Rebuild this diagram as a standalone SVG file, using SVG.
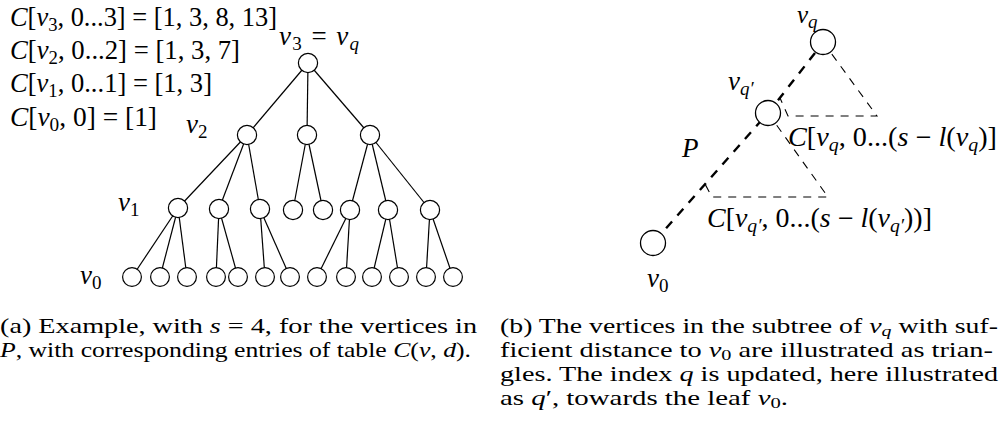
<svg xmlns="http://www.w3.org/2000/svg" width="1007" height="431" viewBox="0 0 1007 431" font-family="'Liberation Serif', serif">
<style>
text{font-family:'Liberation Serif',serif;fill:#000}
.m{font-size:27px}
.i{font-style:italic}
.sub{font-size:19px;baseline-shift:-5px}
.cap{font-size:21px}
.cs{font-size:15px;baseline-shift:-3px}
.edge{stroke:#000;stroke-width:1.2;fill:none}
.na{fill:#fff;stroke:#000;stroke-width:1.2}
.nb{fill:#fff;stroke:#000;stroke-width:1.3}
.path{stroke:#000;stroke-width:2.4;fill:none;stroke-dasharray:9 8}
.tri{stroke:#000;stroke-width:1.1;fill:none;stroke-dasharray:8 7}
</style>
<g id="table">
<text class="m" x="10" y="26" textLength="267" lengthAdjust="spacingAndGlyphs"><tspan class="i">C</tspan>[<tspan class="i">v</tspan><tspan class="sub">3</tspan>, 0...3] = [1, 3, 8, 13]</text>
<text class="m" x="10" y="59" textLength="230" lengthAdjust="spacingAndGlyphs"><tspan class="i">C</tspan>[<tspan class="i">v</tspan><tspan class="sub">2</tspan>, 0...2] = [1, 3, 7]</text>
<text class="m" x="10" y="92" textLength="202" lengthAdjust="spacingAndGlyphs"><tspan class="i">C</tspan>[<tspan class="i">v</tspan><tspan class="sub">1</tspan>, 0...1] = [1, 3]</text>
<text class="m" x="10" y="126" textLength="147" lengthAdjust="spacingAndGlyphs"><tspan class="i">C</tspan>[<tspan class="i">v</tspan><tspan class="sub">0</tspan>, 0] = [1]</text>
</g>
<g id="connectors">
<g id="edges-a">
<line class="edge" x1="308" y1="63" x2="247" y2="135"/>
<line class="edge" x1="308" y1="63" x2="307" y2="135"/>
<line class="edge" x1="308" y1="63" x2="370" y2="135"/>
<line class="edge" x1="247" y1="135" x2="178" y2="208"/>
<line class="edge" x1="247" y1="135" x2="219" y2="209"/>
<line class="edge" x1="247" y1="135" x2="260" y2="209"/>
<line class="edge" x1="307" y1="135" x2="293" y2="210"/>
<line class="edge" x1="307" y1="135" x2="323" y2="210"/>
<line class="edge" x1="370" y1="135" x2="350" y2="210"/>
<line class="edge" x1="370" y1="135" x2="388" y2="210"/>
<line class="edge" x1="370" y1="135" x2="430" y2="210"/>
<line class="edge" x1="178" y1="208" x2="132" y2="277"/>
<line class="edge" x1="178" y1="208" x2="160" y2="277"/>
<line class="edge" x1="178" y1="208" x2="187" y2="277"/>
<line class="edge" x1="219" y1="209" x2="216" y2="277"/>
<line class="edge" x1="219" y1="209" x2="238" y2="277"/>
<line class="edge" x1="260" y1="209" x2="265" y2="277"/>
<line class="edge" x1="260" y1="209" x2="290" y2="277"/>
<line class="edge" x1="350" y1="210" x2="317" y2="277"/>
<line class="edge" x1="350" y1="210" x2="346" y2="277"/>
<line class="edge" x1="388" y1="210" x2="372" y2="277"/>
<line class="edge" x1="388" y1="210" x2="399" y2="277"/>
<line class="edge" x1="430" y1="210" x2="426" y2="277"/>
<line class="edge" x1="430" y1="210" x2="453" y2="277"/>
</g>
<g id="edges-b">
<polyline class="tri" points="823,42 877,116 788,116 780,98"/>
<polyline class="tri" points="768,113 828,197 712,197 705,184"/>
<polyline class="path" points="815,53 768,113 653,243"/>
</g>
</g>
<g id="tree-a">
<g id="a-root"><circle class="na" cx="308" cy="63" r="9.6"/></g>
<g id="a-l2-1"><circle class="na" cx="247" cy="135" r="9.6"/></g>
<g id="a-l2-2"><circle class="na" cx="307" cy="135" r="9.6"/></g>
<g id="a-l2-3"><circle class="na" cx="370" cy="135" r="9.6"/></g>
<g id="a-l1-1"><circle class="na" cx="178" cy="208" r="9.6"/></g>
<g id="a-l1-2"><circle class="na" cx="219" cy="209" r="9.6"/></g>
<g id="a-l1-3"><circle class="na" cx="260" cy="209" r="9.6"/></g>
<g id="a-l1-4"><circle class="na" cx="293" cy="210" r="9.6"/></g>
<g id="a-l1-5"><circle class="na" cx="323" cy="210" r="9.6"/></g>
<g id="a-l1-6"><circle class="na" cx="350" cy="210" r="9.6"/></g>
<g id="a-l1-7"><circle class="na" cx="388" cy="210" r="9.6"/></g>
<g id="a-l1-8"><circle class="na" cx="430" cy="210" r="9.6"/></g>
<g id="a-l0-1"><circle class="na" cx="132" cy="277" r="9.4"/></g>
<g id="a-l0-2"><circle class="na" cx="160" cy="277" r="9.4"/></g>
<g id="a-l0-3"><circle class="na" cx="187" cy="277" r="9.4"/></g>
<g id="a-l0-4"><circle class="na" cx="216" cy="277" r="9.4"/></g>
<g id="a-l0-5"><circle class="na" cx="238" cy="277" r="9.4"/></g>
<g id="a-l0-6"><circle class="na" cx="265" cy="277" r="9.4"/></g>
<g id="a-l0-7"><circle class="na" cx="290" cy="277" r="9.4"/></g>
<g id="a-l0-8"><circle class="na" cx="317" cy="277" r="9.4"/></g>
<g id="a-l0-9"><circle class="na" cx="346" cy="277" r="9.4"/></g>
<g id="a-l0-10"><circle class="na" cx="372" cy="277" r="9.4"/></g>
<g id="a-l0-11"><circle class="na" cx="399" cy="277" r="9.4"/></g>
<g id="a-l0-12"><circle class="na" cx="426" cy="277" r="9.4"/></g>
<g id="a-l0-13"><circle class="na" cx="453" cy="277" r="9.4"/></g>
</g>
<g id="labels-a">
<text class="m" x="279" y="45" textLength="80" lengthAdjust="spacing"><tspan class="i">v</tspan><tspan class="sub">3</tspan> = <tspan class="i">v</tspan><tspan class="sub i">q</tspan></text>
<text class="m" x="186" y="133"><tspan class="i">v</tspan><tspan class="sub">2</tspan></text>
<text class="m" x="118" y="211"><tspan class="i">v</tspan><tspan class="sub">1</tspan></text>
<text class="m" x="80" y="284"><tspan class="i">v</tspan><tspan class="sub">0</tspan></text>
</g>
<g id="tree-b">
<g id="b-vq"><circle class="nb" cx="823" cy="42" r="12.5"/><text class="m" style="font-size:25px" x="797" y="23"><tspan class="i">v</tspan><tspan class="sub i">q</tspan></text></g>
<g id="b-vq2"><circle class="nb" cx="768" cy="113" r="12.5"/><text class="m" x="728" y="90"><tspan class="i">v</tspan><tspan class="sub i">q′</tspan></text></g>
<g id="b-v0"><circle class="nb" cx="653" cy="243" r="12.5"/><text class="m" x="647" y="287"><tspan class="i">v</tspan><tspan class="sub">0</tspan></text></g>
<text class="m i" x="682" y="157">P</text>
<text class="m" x="788" y="146" textLength="209" lengthAdjust="spacingAndGlyphs"><tspan class="i">C</tspan>[<tspan class="i">v</tspan><tspan class="sub i">q</tspan>, 0...(<tspan class="i">s</tspan> − <tspan class="i">l</tspan>(<tspan class="i">v</tspan><tspan class="sub i">q</tspan>)]</text>
<text class="m" x="707" y="227" textLength="225" lengthAdjust="spacingAndGlyphs"><tspan class="i">C</tspan>[<tspan class="i">v</tspan><tspan class="sub i">q′</tspan>, 0...(<tspan class="i">s</tspan> − <tspan class="i">l</tspan>(<tspan class="i">v</tspan><tspan class="sub i">q′</tspan>))]</text>
</g>
<g id="captions">
<text class="cap" x="0" y="333" textLength="477" lengthAdjust="spacingAndGlyphs">(a) Example, with <tspan class="i">s</tspan> = 4, for the vertices in</text>
<text class="cap" x="0" y="357" textLength="471" lengthAdjust="spacingAndGlyphs"><tspan class="i">P</tspan>, with corresponding entries of table <tspan class="i">C</tspan>(<tspan class="i">v</tspan>, <tspan class="i">d</tspan>).</text>
<text class="cap" x="500" y="333" textLength="498" lengthAdjust="spacingAndGlyphs">(b) The vertices in the subtree of <tspan class="i">v</tspan><tspan class="cs i">q</tspan> with suf-</text>
<text class="cap" x="500" y="357" textLength="493" lengthAdjust="spacingAndGlyphs">ficient distance to <tspan class="i">v</tspan><tspan class="cs">0</tspan> are illustrated as trian-</text>
<text class="cap" x="500" y="381" textLength="498" lengthAdjust="spacingAndGlyphs">gles. The index <tspan class="i">q</tspan> is updated, here illustrated</text>
<text class="cap" x="500" y="405" textLength="288" lengthAdjust="spacingAndGlyphs">as <tspan class="i">q</tspan>′, towards the leaf <tspan class="i">v</tspan><tspan class="cs">0</tspan>.</text>
</g>
</svg>
